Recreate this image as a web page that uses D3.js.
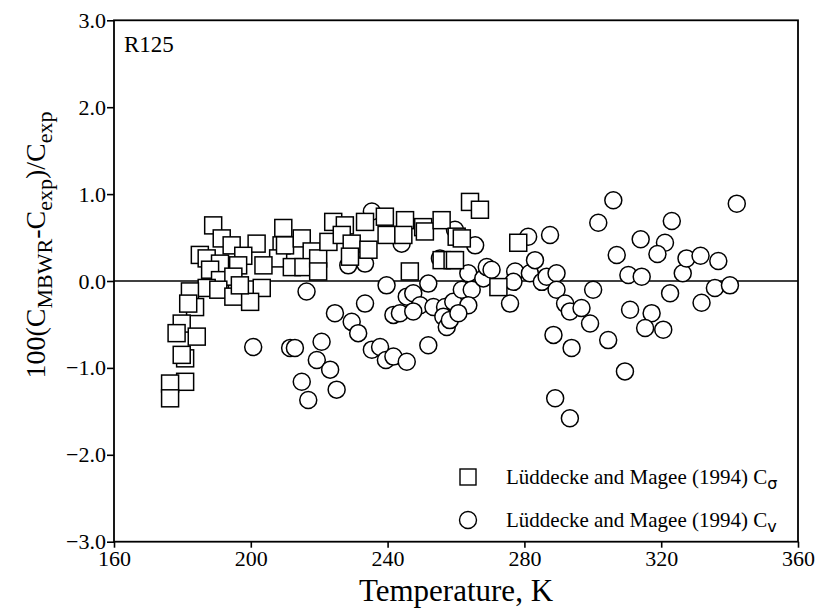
<!DOCTYPE html>
<html>
<head>
<meta charset="utf-8">
<script src="https://cdn.jsdelivr.net/npm/d3@7"></script>
<style>
  body { margin: 0; background: #fff; }
  text { font-family: "Liberation Serif", "DejaVu Serif", serif; fill: #000; }
</style>
</head>
<body>
<svg id="chart" width="818" height="609"></svg>
<script>
// Lüddecke and Magee (1994) C_sigma  -> squares
const sigmaT = [189.0, 191.5, 194.4, 201.7, 185.1, 187.1, 197.8, 209.5, 209.0, 208.0,
  191.0, 188.1, 196.3, 203.7, 191.0, 194.9, 187.1, 190.5, 194.9, 203.2,
  199.8, 182.2, 196.8, 183.7, 181.7, 179.8, 178.3, 184.2, 180.8, 179.8,
  180.8, 176.4, 176.4, 210.0, 214.9, 217.8, 212.0, 215.4, 219.7, 219.7,
  222.7, 224.1, 227.5, 226.6, 229.5, 229.0, 233.4, 234.4, 239.2, 239.7,
  245.1, 244.6, 250.4, 250.9, 255.8, 260.2, 246.5, 255.8, 259.0, 264.1,
  267.0, 261.7, 259.7, 272.4, 278.2]
const sigmaDev = [0.64, 0.49, 0.41, 0.43, 0.30, 0.26, 0.29, 0.61, 0.41, 0.26,
  0.20, 0.13, 0.18, 0.18, 0.01, 0.05, -0.08, -0.10, -0.18, -0.08,
  -0.24, -0.12, -0.05, -0.30, -0.26, -0.49, -0.60, -0.64, -0.89, -0.85,
  -1.16, -1.18, -1.35, 0.41, 0.49, 0.34, 0.16, 0.16, 0.26, 0.11,
  0.45, 0.68, 0.64, 0.53, 0.43, 0.28, 0.68, 0.36, 0.74, 0.53,
  0.70, 0.53, 0.62, 0.57, 0.70, 0.51, 0.11, 0.24, 0.24, 0.91,
  0.82, 0.49, 0.24, -0.07, 0.44]

// Lüddecke and Magee (1994) C_v  -> circles
const cvT = [200.7, 211.5, 216.3, 224.6, 229.5, 231.4, 233.4, 212.9, 220.7, 219.3,
  223.2, 214.9, 216.8, 225.1, 235.4, 237.8, 239.5, 241.7, 245.6, 251.9,
  239.7, 241.7, 243.6, 245.6, 247.5, 249.5, 247.5, 251.9, 253.4, 256.8,
  256.3, 257.3, 259.2, 255.3, 244.1, 233.4, 228.5, 235.4, 259.7, 265.6,
  258.2, 263.6, 261.7, 264.6, 263.6, 260.7, 268.0, 269.0, 270.4, 275.8,
  277.3, 276.8, 281.1, 281.6, 283.1, 285.1, 286.5, 287.5, 289.4, 289.4,
  291.9, 293.3, 296.7, 299.2, 300.1, 288.5, 293.8, 304.5, 301.6, 306.0,
  307.0, 310.4, 310.9, 309.4, 289.0, 293.3, 314.3, 317.2, 315.3, 320.6,
  314.0, 321.1, 318.9, 323.1, 322.6, 326.3, 327.4, 331.5, 331.8, 335.7,
  336.7, 340.1, 342.1]
const cvDev = [-0.76, -0.77, -0.12, -0.37, -0.47, -0.60, -0.26, -0.77, -0.70, -0.91,
  -1.02, -1.16, -1.37, -1.25, -0.79, -0.76, -0.91, -0.87, -0.93, -0.74,
  -0.05, -0.39, -0.37, -0.18, -0.14, -0.28, -0.35, -0.03, -0.30, -0.30,
  -0.41, -0.53, -0.24, 0.26, 0.43, 0.20, 0.18, 0.80, 0.59, 0.41,
  -0.45, 0.09, -0.10, -0.10, -0.28, -0.37, 0.03, 0.16, 0.13, -0.26,
  0.11, -0.01, 0.51, 0.09, 0.24, -0.01, 0.05, 0.53, 0.09, -0.10,
  -0.26, -0.35, -0.31, -0.49, -0.10, -0.62, -0.77, -0.68, 0.67, 0.93,
  0.30, 0.07, -0.33, -1.04, -1.35, -1.58, 0.05, -0.37, -0.54, -0.56,
  0.48, 0.44, 0.31, 0.69, -0.14, 0.09, 0.26, 0.29, -0.25, -0.08,
  0.23, -0.05, 0.89]

const xTicks = [160, 200, 240, 280, 320, 360]
const yTicks = [-3, -2, -1, 0, 1, 2, 3]
const legendLabels = ['Lüddecke and Magee (1994) C', 'Lüddecke and Magee (1994) C']
const legendSubs = ['σ', 'v']

const svg = d3.select('#chart')
const x = d3.scaleLinear().domain([160, 360]).range([114, 798])
const y = d3.scaleLinear().domain([-3, 3]).range([541.7, 20.3])
const fmt = d => (d < 0 ? '\u2212' : '') + Math.abs(d).toFixed(1)

// frame
svg.append('rect')
  .attr('x', x(160)).attr('y', y(3))
  .attr('width', x(360) - x(160)).attr('height', y(-3) - y(3))
  .attr('fill', 'none').attr('stroke', '#000').attr('stroke-width', 1.8)

const xAxis = svg.append('g')
  .attr('transform', `translate(0,${y(-3)})`)
  .call(d3.axisBottom(x).tickValues(xTicks).tickSize(6).tickPadding(3).tickFormat(d3.format('d')))
xAxis.select('.domain').remove()
xAxis.selectAll('line').attr('stroke-width', 1.6)
xAxis.selectAll('text').style('font-size', '22px').style('font-family', '"Liberation Serif", serif')

const yAxis = svg.append('g')
  .attr('transform', `translate(${x(160)},0)`)
  .call(d3.axisLeft(y).tickValues(yTicks).tickSize(7).tickPadding(1).tickFormat(fmt))
yAxis.select('.domain').remove()
yAxis.selectAll('line').attr('stroke-width', 1.6)
yAxis.selectAll('text').style('font-size', '22px').style('font-family', '"Liberation Serif", serif')

// zero line
svg.append('line')
  .attr('x1', x(160)).attr('x2', x(360))
  .attr('y1', y(0)).attr('y2', y(0))
  .attr('stroke', '#000').attr('stroke-width', 1.6)

const size = 17
const circles = d3.range(cvT.length).map(i => ({ t: cvT[i], v: cvDev[i] }))
const squares = d3.range(sigmaT.length).map(i => ({ t: sigmaT[i], v: sigmaDev[i] }))

svg.append('g').selectAll('circle').data(circles).join('circle')
  .attr('cx', d => x(d.t)).attr('cy', d => y(d.v)).attr('r', size / 2)
  .attr('fill', '#fff').attr('stroke', '#000').attr('stroke-width', 1.5)

svg.append('g').selectAll('rect').data(squares).join('rect')
  .attr('x', d => x(d.t) - size / 2).attr('y', d => y(d.v) - size / 2)
  .attr('width', size).attr('height', size)
  .attr('fill', '#fff').attr('stroke', '#000').attr('stroke-width', 1.5)

// label in corner
svg.append('text').attr('x', 124).attr('y', 52).attr('font-size', 23).text('R125')

// legend
const leg = svg.append('g')
legendLabels.forEach((lab, i) => {
  const cy = 477 + i * 43
  if (i === 0) {
    leg.append('rect').attr('x', 460).attr('y', cy - 8).attr('width', 16).attr('height', 16)
      .attr('fill', '#fff').attr('stroke', '#000').attr('stroke-width', 1.4)
  } else {
    leg.append('circle').attr('cx', 468).attr('cy', cy).attr('r', 8.5)
      .attr('fill', '#fff').attr('stroke', '#000').attr('stroke-width', 1.4)
  }
  const t = leg.append('text').attr('x', 506).attr('y', cy + 7).attr('font-size', 21)
  t.append('tspan').text(lab)
  t.append('tspan').attr('dy', 5).attr('font-size', 16).attr('font-family', '"DejaVu Sans", sans-serif').text(legendSubs[i])
})

// axis titles
svg.append('text').attr('x', x(260)).attr('y', 601)
  .attr('text-anchor', 'middle').attr('font-size', 31).text('Temperature, K')

const yl = svg.append('text')
  .attr('transform', 'translate(45,245) rotate(-90)')
  .attr('text-anchor', 'middle').attr('font-size', 28)
const parts = [['100(C', 0], ['MBWR', 1], ['-C', 0], ['exp', 1], [')/C', 0], ['exp', 1]]
let shifted = false
parts.forEach(([s, sub]) => {
  const ts = yl.append('tspan').text(s)
  if (sub && !shifted) { ts.attr('dy', 7).attr('font-size', 22); shifted = true }
  else if (sub) { ts.attr('font-size', 22) }
  else if (shifted) { ts.attr('dy', -7); shifted = false }
})
</script>
</body>
</html>
